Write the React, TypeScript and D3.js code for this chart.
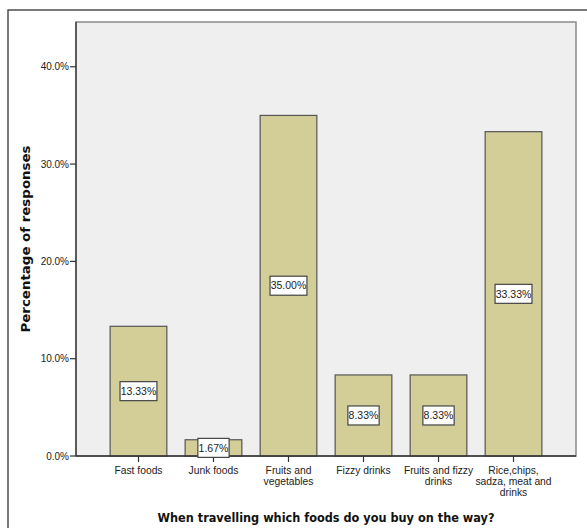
import React from "react";
import * as d3 from "d3";

const categories: string[][] = [
  ["Fast foods"],
  ["Junk foods"],
  ["Fruits and", "vegetables"],
  ["Fizzy drinks"],
  ["Fruits and fizzy", "drinks"],
  ["Rice,chips,", "sadza, meat and", "drinks"],
];
const values: number[] = [13.33, 1.67, 35.0, 8.33, 8.33, 33.33];
const yTicks: number[] = [0, 10, 20, 30, 40];
const yTitle = "Percentage of responses";
const xTitle = "When travelling which foods do you buy on the way?";

const W = 587;
const H = 528;
const plot = { left: 76, top: 22, right: 576, bottom: 456 };
const fontSans = "'Liberation Sans', Arial, sans-serif";
const fontBold = "'DejaVu Sans', Verdana, sans-serif";

export default function App() {
  const keys = categories.map((c) => c.join(" "));
  const x = d3
    .scaleBand<string>()
    .domain(keys)
    .range([plot.left, plot.right])
    .paddingInner(0.244)
    .paddingOuter(0.455);
  const y = d3.scaleLinear().domain([0, 44.6]).range([plot.bottom, plot.top]);
  const fmtTick = (v: number) => v.toFixed(1) + "%";
  const fmtVal = (v: number) => v.toFixed(2) + "%";

  return (
    <svg
      width={W}
      height={H}
      style={{ position: "absolute", left: 0, top: 0, background: "#fff" }}
    >
      {/* outer frame */}
      <rect x={8} y={10} width={W + 10} height={H + 10} fill="#fff" stroke="#333" strokeWidth={1.3} />
      {/* plot background */}
      <rect
        x={plot.left}
        y={plot.top}
        width={plot.right - plot.left}
        height={plot.bottom - plot.top}
        fill="#efefef"
        stroke="#8a8a8a"
        strokeWidth={1.5}
      />
      {/* bars */}
      {values.map((v, i) => (
        <rect
          key={i}
          x={x(keys[i])!}
          y={y(v)}
          width={x.bandwidth()}
          height={y(0) - y(v)}
          fill="#d3ce98"
          stroke="#555"
          strokeWidth={1.2}
        />
      ))}
      {/* axes */}
      <line x1={plot.left} y1={plot.top} x2={plot.left} y2={plot.bottom} stroke="#333" strokeWidth={1.3} />
      <line x1={plot.left} y1={plot.bottom} x2={plot.right} y2={plot.bottom} stroke="#333" strokeWidth={1.3} />
      {yTicks.map((t) => (
        <g key={t}>
          <line x1={plot.left - 6} x2={plot.left} y1={y(t)} y2={y(t)} stroke="#333" strokeWidth={1.2} />
          <text
            x={plot.left - 7}
            y={y(t)}
            dy="0.35em"
            textAnchor="end"
            fontFamily={fontSans}
            fontSize={10}
            fill="#222"
          >
            {fmtTick(t)}
          </text>
        </g>
      ))}
      {categories.map((lines, i) => {
        const cx = x(keys[i])! + x.bandwidth() / 2;
        return (
          <g key={i}>
            <line x1={cx} x2={cx} y1={plot.bottom} y2={plot.bottom + 6} stroke="#333" strokeWidth={1.2} />
            {lines.map((l, j) => (
              <text
                key={j}
                x={cx}
                y={plot.bottom + 18 + j * 11}
                textAnchor="middle"
                fontFamily={fontSans}
                fontSize={10.3}
                fill="#222"
              >
                {l}
              </text>
            ))}
          </g>
        );
      })}
      {/* value labels */}
      {values.map((v, i) => {
        const cx = x(keys[i])! + x.bandwidth() / 2;
        const cy = y(v / 2);
        const label = fmtVal(v);
        const w = label.length * 5.65 + 3;
        return (
          <g key={"l" + i}>
            <rect x={cx - w / 2} y={cy - 9.5} width={w} height={19} fill="#fff" stroke="#444" strokeWidth={1.2} />
            <text
              x={cx}
              y={cy}
              dy="0.36em"
              textAnchor="middle"
              fontFamily={fontSans}
              fontSize={10.5}
              fill="#222"
            >
              {label}
            </text>
          </g>
        );
      })}
      {/* titles */}
      <text
        transform={`translate(29.5, ${(plot.top + plot.bottom) / 2}) rotate(-90)`}
        textAnchor="middle"
        fontFamily={fontBold}
        fontWeight="bold"
        fontSize={12.5}
        textLength={187}
        lengthAdjust="spacingAndGlyphs"
        fill="#111"
      >
        {yTitle}
      </text>
      <text
        x={(plot.left + plot.right) / 2}
        y={522}
        textAnchor="middle"
        fontFamily={fontBold}
        fontWeight="bold"
        fontSize={12}
        textLength={337}
        lengthAdjust="spacingAndGlyphs"
        fill="#111"
      >
        {xTitle}
      </text>
    </svg>
  );
}
